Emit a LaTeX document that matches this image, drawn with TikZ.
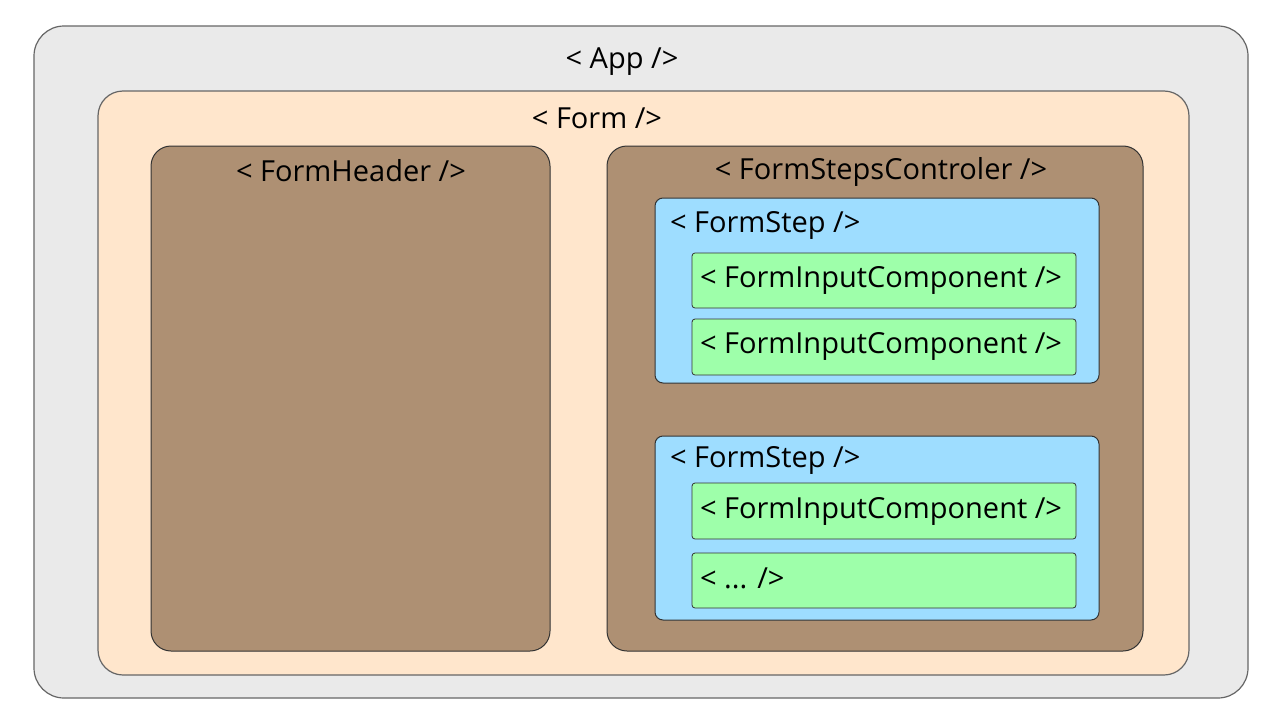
\documentclass[tikz,border=0pt]{standalone}
\usepackage{fontspec}
\setmainfont{Open Sans}
\usetikzlibrary{calc}
\definecolor{AppGray}{HTML}{EAEAEA}
\definecolor{FormPeach}{HTML}{FFE6CC}
\definecolor{BlockBrown}{HTML}{AE9073}
\definecolor{StepBlue}{HTML}{9EDDFF}
\definecolor{InputGreen}{HTML}{9EFFAA}
\newcommand{\CBTextSize}{\fontsize{29}{29}\selectfont}
% box: name, style, top left corner, width, height
\newcommand{\CBBox}[5]{
  \node[#2, anchor=north west, minimum width=#4, minimum height=#5] (#1) at #3 {};
}
% title: box name, anchor, baseline point, text
\newcommand{\CBTitle}[4]{
  \node[anchor=#2] (#1-title) at #3 {#4};
}

\begin{document}
\begin{tikzpicture}[x=1pt,y=-1pt,
  every node/.style={inner sep=0pt, outer sep=0pt, font=\CBTextSize},
  appbox/.style={draw=black!60, line width=1.2pt, fill=AppGray, rounded corners=30pt},
  formbox/.style={draw=black!60, line width=1.2pt, fill=FormPeach, rounded corners=25pt},
  brownbox/.style={draw=black!80, line width=1pt, fill=BlockBrown, rounded corners=20pt},
  stepbox/.style={draw=black!80, line width=1pt, fill=StepBlue, rounded corners=8pt},
  inputbox/.style={draw=black!80, line width=0.8pt, fill=InputGreen, rounded corners=3pt}]
\useasboundingbox (0,0) rectangle (1280,720);

\CBBox{app}{appbox}{(34,26)}{1214pt}{672pt}
\CBTitle{app}{base}{(622,68)}{< App />}

\CBBox{form}{formbox}{(98,91)}{1091pt}{584pt}
\CBTitle{form}{base}{(597,128)}{< Form />}

\CBBox{header}{brownbox}{(151,146)}{399pt}{505pt}
\CBTitle{header}{base}{(351,181)}{< FormHeader />}

\CBBox{steps}{brownbox}{(607,146)}{536pt}{505pt}
\CBTitle{steps}{base}{(881,179)}{< FormStepsControler />}

% first step
\CBBox{step1}{stepbox}{(655,198)}{444pt}{185pt}
\CBTitle{step1}{base west}{(670,232)}{< FormStep />}
\CBBox{input1}{inputbox}{(692,253)}{384pt}{55pt}
\CBTitle{input1}{base west}{(700,287)}{< FormInputComponent />}
\CBBox{input2}{inputbox}{(692,319)}{384pt}{56pt}
\CBTitle{input2}{base west}{(700,353)}{< FormInputComponent />}

% second step
\CBBox{step2}{stepbox}{(655,436)}{444pt}{184pt}
\CBTitle{step2}{base west}{(670,467)}{< FormStep />}
\CBBox{input3}{inputbox}{(692,483)}{384pt}{56pt}
\CBTitle{input3}{base west}{(700,518)}{< FormInputComponent />}
\CBBox{input4}{inputbox}{(692,553)}{384pt}{55pt}
\CBTitle{input4}{base west}{(700,588)}{< ... />}
\end{tikzpicture}
\end{document}
